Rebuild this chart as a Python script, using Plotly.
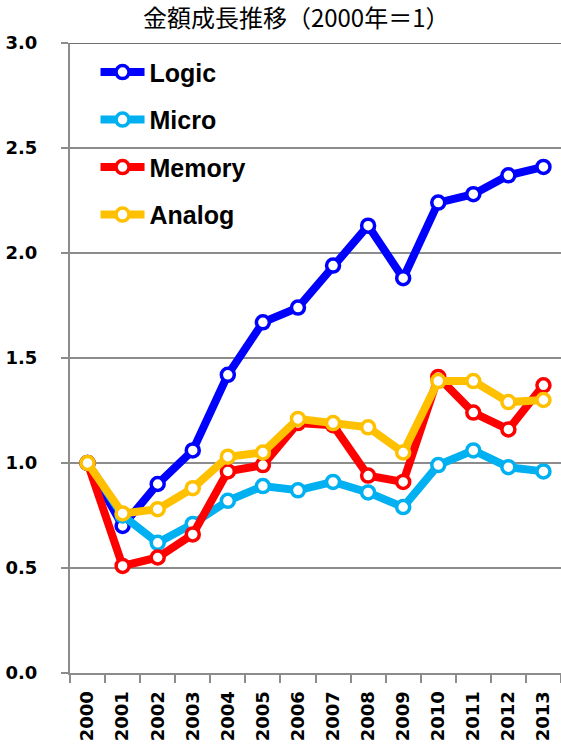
"""Growth of market value by device type, indexed to 2000 = 1."""

import plotly.graph_objects as go

# ─── Data ─────────────────────────────────────────────────────────────────────
YEARS = [str(y) for y in range(2000, 2014)]

LOGIC = [1.00, 0.70, 0.90, 1.06, 1.42, 1.67, 1.74, 1.94, 2.13, 1.88, 2.24, 2.28, 2.37, 2.41]
MICRO = [1.00, 0.75, 0.62, 0.71, 0.82, 0.89, 0.87, 0.91, 0.86, 0.79, 0.99, 1.06, 0.98, 0.96]
MEMORY = [1.00, 0.51, 0.55, 0.66, 0.96, 0.99, 1.19, 1.18, 0.94, 0.91, 1.41, 1.24, 1.16, 1.37]
ANALOG = [1.00, 0.76, 0.78, 0.88, 1.03, 1.05, 1.21, 1.19, 1.17, 1.05, 1.39, 1.39, 1.29, 1.30]

SERIES = {
    "Logic": (LOGIC, "#0000FF"),
    "Micro": (MICRO, "#00B0F0"),
    "Memory": (MEMORY, "#FF0000"),
    "Analog": (ANALOG, "#FFC000"),
}

TITLE = "金額成長推移（2000年＝1）"

GRID = "#8C8C8C"
TICK_FONT = dict(family="DejaVu Sans", size=18, color="black", weight="bold")

fig = go.Figure()

for name, (values, color) in SERIES.items():
    fig.add_trace(
        go.Scatter(
            x=YEARS,
            y=values,
            mode="lines+markers",
            name=name,
            legendgroup=name,
            line=dict(color=color, width=8),
            marker=dict(size=13, color="white", line=dict(color=color, width=3.5)),
        )
    )

# darker frame line along the top of the plot
fig.add_hline(y=3.0, line=dict(color="#404040", width=1.5), layer="above")

fig.update_layout(
    width=561,
    height=744,
    margin=dict(l=70, r=0, t=43, b=71),
    paper_bgcolor="white",
    plot_bgcolor="white",
    title=dict(
        text=TITLE,
        x=0.528,
        xref="container",
        xanchor="center",
        y=0.9745,
        yref="container",
        yanchor="middle",
        font=dict(family="Noto Sans CJK JP", size=24, color="black"),
    ),
    legend=dict(
        x=0.052,
        y=0.99,
        xanchor="left",
        yanchor="top",
        bgcolor="rgba(0,0,0,0)",
        traceorder="grouped",
        tracegroupgap=12,
        itemwidth=44,
        font=dict(family="Liberation Sans", size=25, color="black", weight="bold"),
    ),
    xaxis=dict(
        type="category",
        range=[-0.5, 13.5],
        showgrid=False,
        showline=True,
        linecolor=GRID,
        linewidth=2,
        ticks="outside",
        tickson="boundaries",
        ticklen=8,
        tickcolor=GRID,
        tickwidth=1.5,
        tickangle=-90,
        ticklabelstandoff=9,
        automargin=False,
        tickfont=TICK_FONT,
    ),
    yaxis=dict(
        range=[0, 3],
        dtick=0.5,
        tickformat=".1f",
        showgrid=True,
        gridcolor=GRID,
        gridwidth=1.5,
        zeroline=False,
        showline=True,
        linecolor=GRID,
        linewidth=2,
        ticks="outside",
        ticklen=7,
        tickcolor=GRID,
        tickwidth=1.5,
        ticklabelstandoff=20,
        automargin=False,
        tickfont=TICK_FONT,
    ),
    showlegend=True,
)

fig.write_html(
    "out.html",
    config={"displayModeBar": False},
    post_script="document.body.style.margin = '0';",
)
